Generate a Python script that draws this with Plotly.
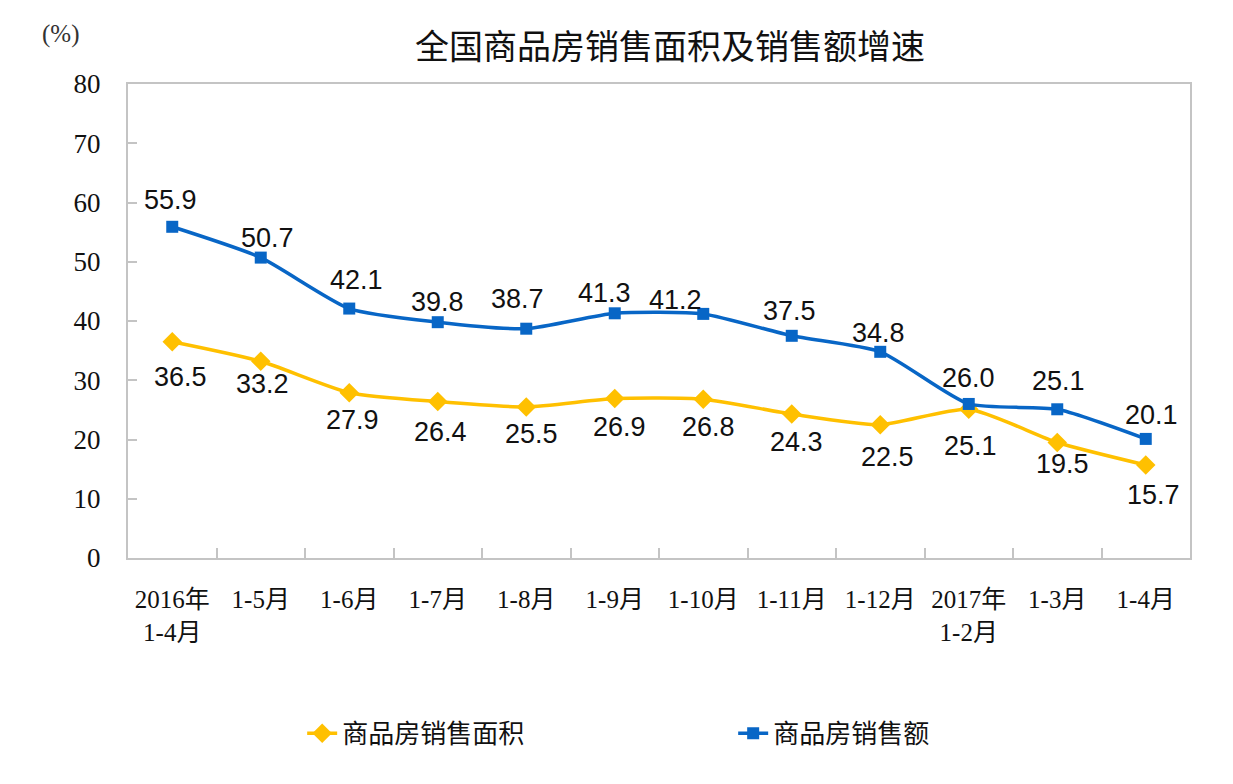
import plotly.graph_objects as go

categories = ["2016年<br>1-4月", "1-5月", "1-6月", "1-7月", "1-8月", "1-9月", "1-10月",
              "1-11月", "1-12月", "2017年<br>1-2月", "1-3月", "1-4月"]
area_growth = [36.5, 33.2, 27.9, 26.4, 25.5, 26.9, 26.8, 24.3, 22.5, 25.1, 19.5, 15.7]
sales_growth = [55.9, 50.7, 42.1, 39.8, 38.7, 41.3, 41.2, 37.5, 34.8, 26.0, 25.1, 20.1]
y_ticks = [0, 10, 20, 30, 40, 50, 60, 70, 80]

# label offsets (pixels) relative to each point
blue_dx = [-2, 7, 7, 0, -9, -10, -28, -2, -2, 0, 1, 6]
blue_dy = [27, 20, 29, 20, 30, 20, 14, 25, 19, 26, 28, 24]
yel_dx = [8, 2, 3, 3, 5, 5, 5, 5, 7, 2, 5, 8]
yel_dy = [35, 23, 27, 30, 27, 28, 28, 28, 32, 37, 22, 30]

YELLOW = "#FFC000"
BLUE = "#0866C6"
GRID = "#C4C4C4"

fig = go.Figure()
fig.add_trace(go.Scatter(
    x=categories, y=area_growth, name="商品房销售面积", mode="lines+markers",
    line=dict(color=YELLOW, width=3.5, shape="spline", smoothing=0.6),
    marker=dict(symbol="diamond", size=15, color=YELLOW),
))
fig.add_trace(go.Scatter(
    x=categories, y=sales_growth, name="商品房销售额", mode="lines+markers",
    line=dict(color=BLUE, width=3.5, shape="spline", smoothing=0.6),
    marker=dict(symbol="square", size=12, color=BLUE),
))

label_font = dict(family="Liberation Sans, Arial", size=27, color="#111111")
for c, v, dx, dy in zip(categories, sales_growth, blue_dx, blue_dy):
    fig.add_annotation(x=c, y=v, xref="x", yref="y", text=f"{v:.1f}", showarrow=False,
                       xshift=dx, yshift=dy, font=label_font)
for c, v, dx, dy in zip(categories, area_growth, yel_dx, yel_dy):
    fig.add_annotation(x=c, y=v, xref="x", yref="y", text=f"{v:.1f}", showarrow=False,
                       xshift=dx, yshift=-dy, font=label_font)

fig.add_annotation(x=-0.064, y=1.105, xref="paper", yref="paper", text="(%)", showarrow=False,
                   xanchor="center", yanchor="middle",
                   font=dict(family="Liberation Serif, Noto Sans CJK SC", size=25, color="#333333"))

xtick_font = dict(family="Liberation Serif, Noto Sans CJK SC", size=25, color="#111111")
ytick_font = dict(family="Liberation Serif, Noto Sans CJK SC", size=27, color="#111111")
fig.update_xaxes(
    type="category", range=[-0.5, 11.5], tickson="boundaries", ticks="inside", ticklen=10,
    tickcolor=GRID, tickwidth=2, showline=True, linecolor=GRID, linewidth=2, mirror=True,
    showgrid=False, tickfont=xtick_font, ticklabelstandoff=18, tickangle=0,
)
fig.update_yaxes(
    range=[0, 80], tickvals=y_ticks, ticks="inside", ticklen=9, tickcolor=GRID, tickwidth=2,
    showline=True, linecolor=GRID, linewidth=2, mirror=True, showgrid=False,
    zeroline=False, tickfont=ytick_font, ticklabelstandoff=20,
)

fig.update_layout(
    width=1233, height=784,
    margin=dict(l=120, r=51, t=76, b=234),
    paper_bgcolor="white", plot_bgcolor="white",
    title=dict(text="全国商品房销售面积及销售额增速", x=0.537, xref="container", xanchor="center",
               y=0.95, yref="container", yanchor="middle",
               font=dict(family="Noto Sans CJK SC", size=34, color="#111111")),
    legend=dict(orientation="h", x=0.164, xanchor="left", y=-0.37, yanchor="middle",
                entrywidth=386, entrywidthmode="pixels",
                font=dict(family="Noto Sans CJK SC", size=26, color="#111111")),
    showlegend=True,
)

fig.write_html("out.html")
